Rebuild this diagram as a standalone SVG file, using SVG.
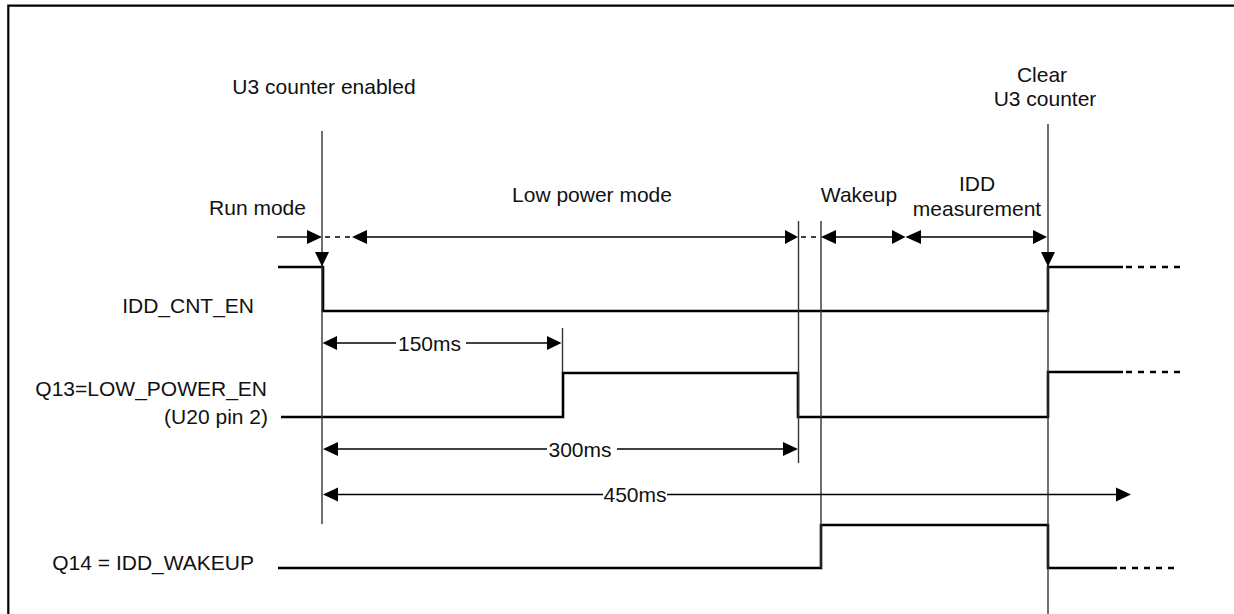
<svg xmlns="http://www.w3.org/2000/svg" width="1234" height="614" viewBox="0 0 1234 614">
<style>
text{font-family:"Liberation Sans",Arial,sans-serif;font-size:21px;fill:#111}
.mid{text-anchor:middle}
.end{text-anchor:end}
.sig{fill:none;stroke:#000;stroke-width:2.6;stroke-linejoin:miter}
.sigd{fill:none;stroke:#000;stroke-width:2.6;stroke-dasharray:6 6}
.v{stroke:#333;stroke-width:1.4}
.a{stroke:#000;stroke-width:1.4;fill:none}
.ad{stroke:#000;stroke-width:1.4;stroke-dasharray:5 5}
.h{fill:#000}
</style>
<g id="frame"><path d="M8.3 614V5.7H1234" fill="none" stroke="#000" stroke-width="2.2"/></g>

<g id="labels">
<text class="mid" x="324" y="94">U3 counter enabled</text>
<text class="mid" x="1042" y="82">Clear</text>
<text class="mid" x="1045" y="106">U3 counter</text>
<text class="mid" x="257.5" y="215">Run mode</text>
<text class="mid" x="592" y="202">Low power mode</text>
<text class="mid" x="859" y="202">Wakeup</text>
<text class="mid" x="977" y="191">IDD</text>
<text class="mid" x="977" y="216">measurement</text>
</g>

<g id="sig-idd-cnt-en">
<text class="end" x="254" y="313">IDD_CNT_EN</text>
<path class="sig" d="M278 267H323V311H1048V267H1123"/>
<path class="sigd" d="M1126 267H1182"/>
</g>
<g id="sig-low-power-en">
<text class="end" x="267" y="396">Q13=LOW_POWER_EN</text>
<text class="end" x="268" y="424">(U20 pin 2)</text>
<path class="sig" d="M281 417H563V373H798V417H1048V372H1123"/>
<path class="sigd" d="M1126 372H1182"/>
</g>
<g id="sig-idd-wakeup">
<text class="end" x="254" y="570">Q14 = IDD_WAKEUP</text>
<path class="sig" d="M278 568H821V525H1048V568H1117"/>
<path class="sigd" d="M1120 568H1176"/>
</g>

<g id="connectors">
<line class="v" x1="322" y1="131" x2="322" y2="524"/>
<line class="v" x1="1048" y1="124" x2="1048" y2="614"/>
<line class="v" x1="798.5" y1="221" x2="798.5" y2="463"/>
<line class="v" x1="821" y1="221" x2="821" y2="568"/>
<line class="v" x1="562.5" y1="328" x2="562.5" y2="372"/>

<!-- mode row -->
<line class="a" x1="277" y1="237" x2="308" y2="237"/>
<path class="h" d="M322 237L307 230V244Z"/>
<line class="ad" x1="325" y1="237" x2="350" y2="237"/>
<path class="h" d="M352 237L367 230V244Z"/>
<line class="a" x1="366" y1="237" x2="787" y2="237"/>
<path class="h" d="M798 237L785 230V244Z"/>
<line class="ad" x1="801" y1="237" x2="820" y2="237"/>
<path class="h" d="M821 237L836 230V244Z"/>
<line class="a" x1="835" y1="237" x2="893" y2="237"/>
<path class="h" d="M905.5 237L892 230V244Z"/>
<path class="h" d="M905.5 237L921 230V244Z"/>
<line class="a" x1="920" y1="237" x2="1034" y2="237"/>
<path class="h" d="M1047 237L1033 230V244Z"/>
<path class="h" d="M322 266.5L315 252H329Z"/>
<path class="h" d="M1048 266.5L1041 252H1055Z"/>

<!-- 150ms -->
<path class="h" d="M322.5 343L337 336V350Z"/>
<line class="a" x1="336" y1="343" x2="396" y2="343"/>
<text class="mid" x="429.5" y="351">150ms</text>
<line class="a" x1="466" y1="343" x2="548" y2="343"/>
<path class="h" d="M561.5 343L547 336V350Z"/>

<!-- 300ms -->
<path class="h" d="M323 449L338 442V456Z"/>
<line class="a" x1="337" y1="449" x2="547" y2="449"/>
<text class="mid" x="580" y="457">300ms</text>
<line class="a" x1="617" y1="449" x2="785" y2="449"/>
<path class="h" d="M798 449L783 442V456Z"/>

<!-- 450ms -->
<path class="h" d="M323 494.5L338 487.5V501.5Z"/>
<line class="a" x1="337" y1="494.5" x2="603" y2="494.5"/>
<text class="mid" x="635" y="502">450ms</text>
<line class="a" x1="667" y1="494.5" x2="1117" y2="494.5"/>
<path class="h" d="M1131 494.5L1116 487.5V501.5Z"/>
</g>
</svg>
